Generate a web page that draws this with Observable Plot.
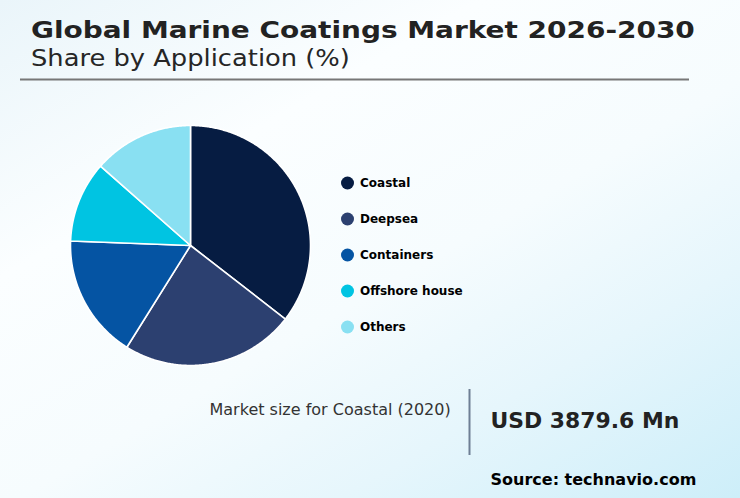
<!DOCTYPE html>
<html>
<head>
<meta charset="utf-8">
<script src="https://cdn.jsdelivr.net/npm/d3@7"></script>
<script src="https://cdn.jsdelivr.net/npm/@observablehq/plot@0.6"></script>
<style>
  html, body { margin: 0; padding: 0; }
  body { width: 740px; height: 498px; overflow: hidden; }
  #page {
    position: relative; width: 740px; height: 498px;
    background: linear-gradient(150deg, #eaf5fa 0%, #fbfeff 30%, #f6fcfe 55%, #e6f6fc 75%, #cdeef9 100%);
    font-family: "DejaVu Sans", sans-serif;
  }
  #pie { position: absolute; left: 64.5px; top: 120px; }
  #overlay { position: absolute; left: 0; top: 0; pointer-events: none; }
</style>
</head>
<body>
<div id="page">
  <div id="pie"></div>
  <svg id="overlay" width="740" height="498"></svg>
</div>
<script>
const categories = ["Coastal", "Deepsea", "Containers", "Offshore house", "Others"];
const shares = [35.5, 23.4, 16.7, 10.9, 13.5];
const colors = ["#061c42", "#2c4070", "#0554a3", "#00c4e2", "#89e0f2"];
const titleText = "Global Marine Coatings Market 2026-2030";
const subtitleText = "Share by Application (%)";
const highlightLabel = "Market size for Coastal (2020)";
const highlightValue = "USD 3879.6 Mn";
const sourceText = "Source: technavio.com";

// build slice polygons from the data via d3.pie
const arcs = d3.pie().sort(null).value(d => d.value)(categories.map((c, i) => ({category: c, value: shares[i]})));
function ring(a0, a1) {
  const n = Math.max(2, Math.ceil((a1 - a0) / (Math.PI / 360)));
  const pts = [[0, 0]];
  for (let k = 0; k <= n; k++) {
    const a = a0 + (a1 - a0) * k / n;
    pts.push([Math.sin(a), -Math.cos(a)]);
  }
  pts.push([0, 0]);
  return pts;
}
const features = arcs.map(a => ({
  type: "Feature",
  properties: {category: a.data.category},
  geometry: {type: "Polygon", coordinates: [ring(a.startAngle, a.endAngle)]}
}));
const outline = {type: "Polygon", coordinates: [ring(0, 2 * Math.PI).slice(1, -1).concat([[0, -1]])]};

const chart = Plot.plot({
  width: 250,
  height: 250,
  margin: 5,
  style: {background: "transparent"},
  projection: ({width, height}) => d3.geoIdentity().fitSize([width, height], outline),
  color: {domain: categories, range: colors},
  marks: [
    Plot.geo(features, {fill: d => d.properties.category, stroke: "white", strokeWidth: 1.6})
  ]
});
document.getElementById("pie").appendChild(chart);

// static texts and legend
const svg = d3.select("#overlay");
svg.append("text").attr("transform", "translate(31,38.3) scale(1.19,1)")
  .attr("font-family", "DejaVu Sans").attr("font-weight", "bold").attr("font-size", 23.5)
  .attr("fill", "#222").text(titleText);
svg.append("text").attr("transform", "translate(31,66.3) scale(1.14,1)")
  .attr("font-family", "DejaVu Sans").attr("font-size", 22.6)
  .attr("fill", "#262626").text(subtitleText);
svg.append("line").attr("x1", 20).attr("x2", 689).attr("y1", 79.5).attr("y2", 79.5)
  .attr("stroke", "#777").attr("stroke-width", 2);

const legend = svg.append("g");
categories.forEach((c, i) => {
  const y = 183 + 36 * i;
  legend.append("circle").attr("cx", 347.5).attr("cy", y).attr("r", 6.5).attr("fill", colors[i]);
  legend.append("text").attr("x", 360).attr("y", y + 4.4)
    .attr("font-family", "DejaVu Sans").attr("font-weight", "bold").attr("font-size", 12)
    .attr("fill", "#000").text(c);
});

svg.append("text").attr("x", 209.5).attr("y", 415)
  .attr("font-family", "DejaVu Sans").attr("font-size", 16)
  .attr("fill", "#333").text(highlightLabel);
svg.append("line").attr("x1", 469.5).attr("x2", 469.5).attr("y1", 389).attr("y2", 455)
  .attr("stroke", "#6e7f95").attr("stroke-width", 2);
svg.append("text").attr("x", 490.5).attr("y", 427.5)
  .attr("font-family", "DejaVu Sans").attr("font-weight", "bold").attr("font-size", 21.9)
  .attr("fill", "#222").text(highlightValue);
svg.append("text").attr("x", 490.5).attr("y", 485)
  .attr("font-family", "DejaVu Sans").attr("font-weight", "bold").attr("font-size", 16)
  .attr("fill", "#000").text(sourceText);
</script>
</body>
</html>
